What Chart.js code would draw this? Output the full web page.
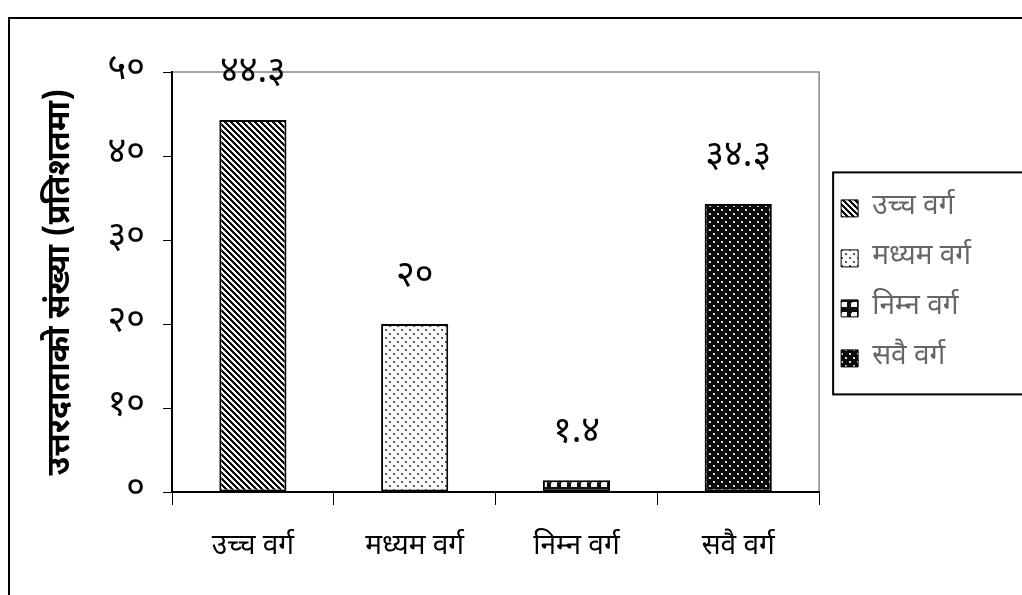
<!DOCTYPE html>
<html><head><meta charset="utf-8">
<script src="https://cdn.jsdelivr.net/npm/chart.js@4.4.1/dist/chart.umd.min.js"></script>
<style>html,body{margin:0;padding:0;background:#fff;overflow:hidden}</style>
</head><body>
<canvas id="c" width="1022" height="595"></canvas>
<script>
const categories = ['उच्च वर्ग', 'मध्यम वर्ग', 'निम्न वर्ग', 'सवै वर्ग'];
const values = [44.3, 20, 1.4, 34.3];
const valueLabels = ['४४.३', '२०', '१.४', '३४.३'];
const yTickLabels = ['०', '१०', '२०', '३०', '४०', '५०'];
const yTitle = 'उत्तरदाताको संख्या (प्रतिशतमा)';

const FONT = "'Noto Sans Devanagari','Lohit Devanagari','Noto Sans','DejaVu Sans',sans-serif";

function makePattern(size, painter) {
  const c = document.createElement('canvas');
  c.width = size; c.height = size;
  const g = c.getContext('2d');
  const img = g.createImageData(size, size);
  for (let y = 0; y < size; y++) for (let x = 0; x < size; x++) {
    const v = painter(x, y);
    const i = (y * size + x) * 4;
    img.data[i] = img.data[i + 1] = img.data[i + 2] = v; img.data[i + 3] = 255;
  }
  g.putImageData(img, 0, 0);
  return document.getElementById('c').getContext('2d').createPattern(c, 'repeat');
}
const inDot = (x, y, cx, cy) => (x === cx || x === cx + 1) && (y === cy || y === cy + 1);
const patStripes = makePattern(6, (x, y) => (((x - y) % 6 + 6) % 6) < 3 ? 10 : 245);
const patLightDots = makePattern(8, (x, y) => (inDot(x, y, 1, 1) || inDot(x, y, 5, 5)) ? ((x + y) % 2 ? 110 : 70) : 250);
const patChecker = makePattern(10, (x, y) => {
  const inSq = x >= 1 && x <= 6 && y >= 2 && y <= 6;
  if (!inSq) return 15;
  if (x === 1 && y === 2) return 15;
  return 245;
});
const patDarkDots = makePattern(8, (x, y) => (inDot(x, y, 1, 1) || inDot(x, y, 5, 5)) ? ((x + y) % 2 ? 190 : 240) : 10);
const fills = [patStripes, patLightDots, patChecker, patDarkDots];

const framePlugin = {
  id: 'frame',
  beforeDraw(chart) {
    const { ctx, chartArea: a } = chart;
    ctx.save();
    ctx.fillStyle = '#fff';
    ctx.fillRect(0, 0, chart.width, chart.height);
    ctx.strokeStyle = '#000'; ctx.lineWidth = 2;
    ctx.beginPath();
    ctx.moveTo(9, chart.height + 5); ctx.lineTo(9, 18); ctx.lineTo(chart.width + 5, 18);
    ctx.stroke();
    ctx.strokeStyle = '#888'; ctx.lineWidth = 1.5;
    ctx.beginPath();
    ctx.moveTo(a.left, a.top); ctx.lineTo(a.right, a.top); ctx.lineTo(a.right, a.bottom);
    ctx.stroke();
    ctx.restore();
  },
  afterDraw(chart) {
    const { ctx } = chart;
    const meta = chart.getDatasetMeta(0);
    ctx.save();
    ctx.fillStyle = '#000';
    ctx.font = '36px ' + FONT;
    ctx.textAlign = 'center'; ctx.textBaseline = 'middle';
    meta.data.forEach((bar, i) => {
      ctx.fillText(valueLabels[i], bar.x, bar.y - 45);
    });
    const lg = chart.legend;
    if (lg && lg.legendHitBoxes && lg.legendHitBoxes.length) {
      const hb = lg.legendHitBoxes;
      const first = hb[0], last = hb[hb.length - 1];
      ctx.strokeStyle = '#000'; ctx.lineWidth = 2;
      ctx.strokeRect(first.left - 8, first.top - 22, chart.width, (last.top + last.height) - first.top + 44);
    }
    ctx.restore();
  }
};

new Chart(document.getElementById('c'), {
  type: 'bar',
  data: {
    labels: categories,
    datasets: [{
      data: values,
      backgroundColor: fills,
      borderColor: '#000',
      borderWidth: 2,
      borderSkipped: false,
      categoryPercentage: 1,
      barPercentage: 0.415
    }]
  },
  options: {
    responsive: false,
    animation: false,
    devicePixelRatio: 1,
    layout: { padding: { left: 8, top: 72, right: 41, bottom: 0 } },
    plugins: {
      tooltip: { enabled: false },
      legend: {
        position: 'right',
        align: 'start',
        title: { display: true, text: '', padding: 43 },
        labels: {
          font: { family: FONT, size: 28 },
          color: '#000',
          boxWidth: 17,
          boxHeight: 17,
          padding: 22,
          generateLabels(chart) {
            return categories.map((c, i) => ({
              text: c, fillStyle: fills[i], strokeStyle: '#000', lineWidth: 1, hidden: false, index: i
            }));
          }
        },
        onClick: () => {}
      }
    },
    scales: {
      x: {
        grid: { display: true, drawOnChartArea: false, color: '#000', tickLength: 13, offset: true },
        border: { color: '#000', width: 2 },
        ticks: { color: '#000', font: { family: FONT, size: 28 }, padding: 27, maxRotation: 0 },
        afterFit(s) { s.height = 103; }
      },
      y: {
        min: 0, max: 50,
        ticks: {
          stepSize: 10, color: '#000', font: { family: FONT, size: 36 }, padding: 18,
          callback: (v, i) => yTickLabels[i]
        },
        grid: { display: true, drawOnChartArea: false, color: '#000', tickLength: 9 },
        border: { color: '#000', width: 2 },
        title: { display: true, text: yTitle, color: '#000', font: { family: FONT, size: 32, weight: 'bold' }, padding: { top: 36, bottom: 0 } },
        afterFit(s) { s.width = 164; }
      }
    }
  },
  plugins: [framePlugin]
});
</script>
</body></html>
